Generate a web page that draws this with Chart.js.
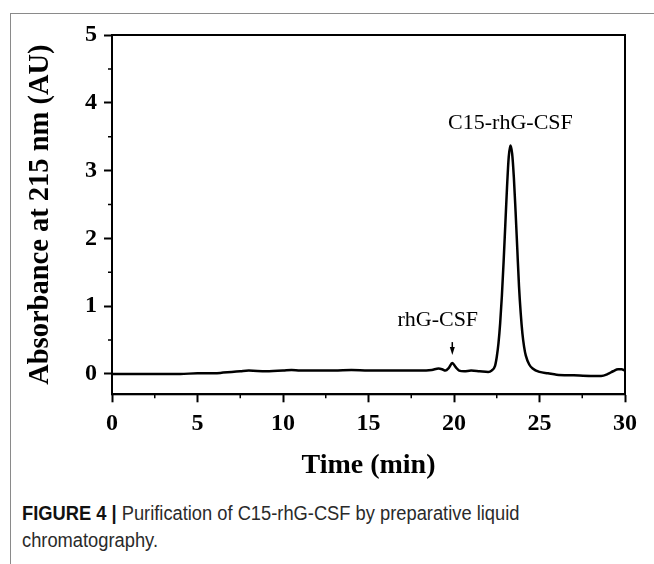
<!DOCTYPE html>
<html>
<head>
<meta charset="utf-8">
<script src="https://cdn.jsdelivr.net/npm/chart.js@4.4.0/dist/chart.umd.min.js"></script>
<style>
  body { margin: 0; background: #fff; }
  #frame {
    position: absolute; left: 10px; top: 13px; width: 644px; height: 551px;
    border-top: 1px solid #8a8a8a; border-left: 1px solid #8a8a8a;
  }
  #chart { position: absolute; left: 0; top: 0; }
  #caption {
    position: absolute; left: 22px; top: 500px; white-space: nowrap;
    font-family: 'Liberation Sans Narrow', 'Liberation Sans', sans-serif;
    font-size: 20px; line-height: 27px; color: #2a2a2a;
    transform: scaleX(0.915); transform-origin: 0 0;
  }
  #caption b { color: #111; }
</style>
</head>
<body>
<div id="frame"></div>
<canvas id="chart" width="654" height="490"></canvas>
<div id="caption"><b>FIGURE 4 |</b> Purification of C15-rhG-CSF by preparative liquid<br>chromatography.</div>
<script>
'use strict';

// chromatogram: time (min) vs absorbance (AU)
const times = [
  0, 1, 2, 3, 4, 5, 6, 6.5, 7, 7.5, 8, 9, 10, 10.5, 11, 12, 13, 14, 15, 16, 17, 18,
  18.7, 19.1, 19.3, 19.5, 19.7, 19.9, 20.1, 20.3, 20.6, 21, 21.5, 22, 22.2,
  22.4, 22.5, 22.6, 22.7, 22.8, 22.9, 23.0, 23.1, 23.2, 23.3, 23.4, 23.5, 23.6,
  23.7, 23.8, 23.9, 24.0, 24.1, 24.2, 24.4, 24.6, 25, 25.5, 26, 27, 28, 28.6,
  29, 29.3, 29.6, 29.8, 30
];
const absorbance = [
  0.0, 0.0, 0.0, 0.0, 0.0, 0.01, 0.01, 0.02, 0.03, 0.04, 0.05, 0.04, 0.05, 0.06, 0.05, 0.05, 0.05, 0.06, 0.05, 0.05, 0.05, 0.05,
  0.06, 0.08, 0.07, 0.05, 0.09, 0.16, 0.1, 0.05, 0.04, 0.05, 0.04, 0.03, 0.05,
  0.12, 0.25, 0.45, 0.75, 1.15, 1.65, 2.2, 2.75, 3.2, 3.37, 3.25, 2.9, 2.4,
  1.85, 1.3, 0.9, 0.6, 0.4, 0.27, 0.14, 0.08, 0.03, 0.01, -0.01, -0.02, -0.03, -0.03,
  0.0, 0.04, 0.07, 0.07, 0.05
];

const xTicks = [0, 5, 10, 15, 20, 25, 30];
const yTicks = [0, 1, 2, 3, 4, 5];

const peakLabels = [
  { text: 'C15-rhG-CSF', x: 23.3, y: 3.7 },
  { text: 'rhG-CSF', x: 19.05, y: 0.8 }
];
const arrowAt = { x: 19.9, from: 0.47, to: 0.28 };

const serif = "'Liberation Serif', 'Times New Roman', serif";

const points = times.map((t, i) => ({ x: t, y: absorbance[i] }));

// frame, minor ticks and the peak labels
const extras = {
  id: 'extras',
  afterDraw(chart) {
    const { ctx, chartArea: a, scales: { x, y } } = chart;
    ctx.save();
    ctx.strokeStyle = '#000';
    ctx.lineWidth = 2;
    ctx.strokeRect(a.left, a.top, a.right - a.left, a.bottom - a.top);

    // minor ticks halfway between the labelled ones
    ctx.lineWidth = 1.5;
    ctx.beginPath();
    for (let i = 0; i < xTicks.length - 1; i++) {
      const px = x.getPixelForValue((xTicks[i] + xTicks[i + 1]) / 2);
      ctx.moveTo(px, a.bottom);
      ctx.lineTo(px, a.bottom + 4);
    }
    for (let i = 0; i < yTicks.length - 1; i++) {
      const py = y.getPixelForValue((yTicks[i] + yTicks[i + 1]) / 2);
      ctx.moveTo(a.left, py);
      ctx.lineTo(a.left - 4, py);
    }
    ctx.stroke();

    ctx.fillStyle = '#000';
    ctx.font = '22px ' + serif;
    ctx.textAlign = 'center';
    ctx.textBaseline = 'middle';
    peakLabels.forEach(l => {
      ctx.fillText(l.text, x.getPixelForValue(l.x), y.getPixelForValue(l.y));
    });

    // small arrow pointing at the rhG-CSF peak
    const ax = x.getPixelForValue(arrowAt.x);
    const y1 = y.getPixelForValue(arrowAt.from);
    const y2 = y.getPixelForValue(arrowAt.to);
    ctx.lineWidth = 1.5;
    ctx.beginPath();
    ctx.moveTo(ax, y1);
    ctx.lineTo(ax, y2 - 6);
    ctx.stroke();
    ctx.beginPath();
    ctx.moveTo(ax - 2.5, y2 - 8);
    ctx.lineTo(ax + 2.5, y2 - 8);
    ctx.lineTo(ax, y2);
    ctx.closePath();
    ctx.fill();
    ctx.restore();
  }
};

new Chart(document.getElementById('chart'), {
  type: 'line',
  data: {
    datasets: [{
      data: points,
      borderColor: '#000',
      borderWidth: 2.5,
      pointRadius: 0,
      cubicInterpolationMode: 'monotone',
      fill: false
    }]
  },
  options: {
    responsive: false,
    animation: false,
    devicePixelRatio: 1,
    layout: { padding: { top: 35, right: 29, left: 0, bottom: 0 } },
    plugins: { legend: { display: false }, tooltip: { enabled: false } },
    scales: {
      x: {
        type: 'linear',
        min: 0,
        max: 30,
        afterBuildTicks: s => { s.ticks = xTicks.map(v => ({ value: v })); },
        afterFit: s => { s.height = 95.7; },
        ticks: { color: '#000', padding: 7, maxRotation: 0, font: { family: serif, size: 24, weight: 'bold' } },
        grid: { drawOnChartArea: false, drawTicks: true, tickLength: 8, tickWidth: 2, tickColor: '#000' },
        border: { display: true, color: '#000', width: 2 },
        title: {
          display: true, text: 'Time (min)', color: '#000',
          padding: { top: 0, bottom: 7 },
          font: { family: serif, size: 28, weight: 'bold' }
        }
      },
      y: {
        min: -0.3,
        max: 5,
        afterBuildTicks: s => { s.ticks = yTicks.map(v => ({ value: v })); },
        afterFit: s => { s.width = 112; },
        ticks: { color: '#000', padding: 7, font: { family: serif, size: 24, weight: 'bold' } },
        grid: { drawOnChartArea: false, drawTicks: true, tickLength: 8, tickWidth: 2, tickColor: '#000' },
        border: { display: true, color: '#000', width: 2 },
        title: {
          display: true, text: 'Absorbance at 215 nm (AU)', color: '#000',
          padding: { top: 24, bottom: 0 },
          font: { family: serif, size: 28.5, weight: 'bold' }
        }
      }
    }
  },
  plugins: [extras]
});
</script>
</body>
</html>
